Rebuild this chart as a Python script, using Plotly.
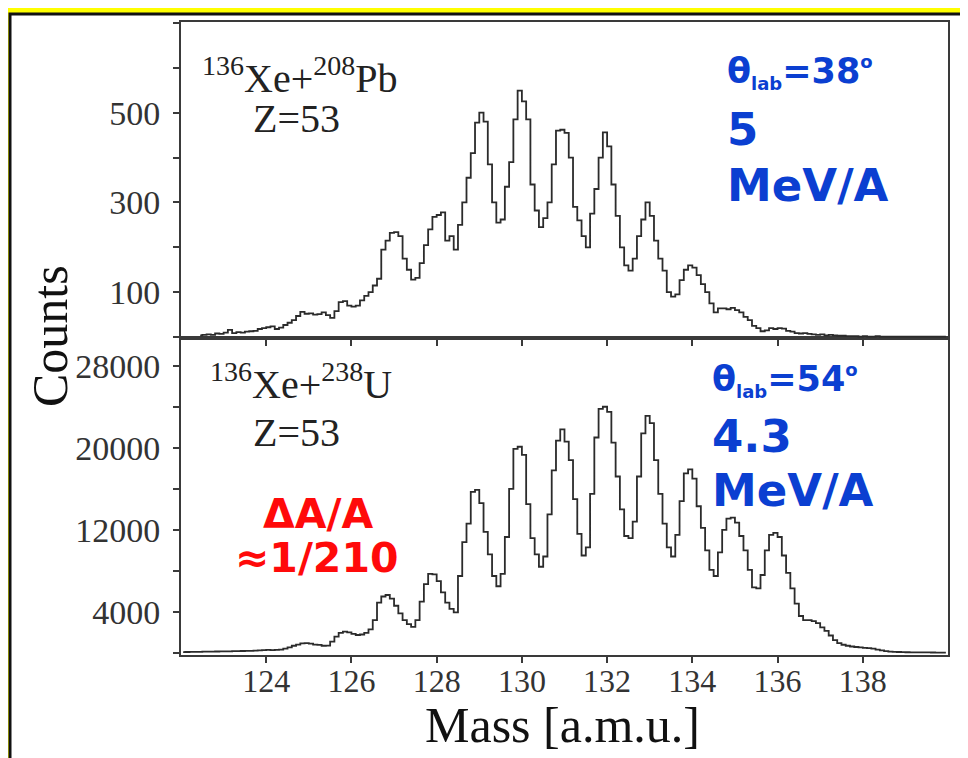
import plotly.graph_objects as go

# ---------------- data (counts per 0.1 amu bin, bin centres from 122.05) ----------------
mass_start = 122.05
bin_width = 0.1

pb_counts = [
    None, None, None, None, 4, 5, 6, 5, 8, 7,            # 122
    10, 16, 9, 11, 10, 12, 13, 14, 18, 20,               # 123
    22, 24, 18, 21, 27, 32, 38, 47, 56, 52,              # 124
    53, 50, 51, 55, 49, 43, 58, 78, 80, 70,              # 125
    68, 70, 82, 92, 100, 115, 130, 195, 215, 232,        # 126
    234, 225, 175, 150, 128, 132, 165, 205, 240, 268,    # 127
    272, 278, 215, 225, 195, 250, 300, 355, 410, 478,    # 128
    500, 480, 385, 300, 255, 262, 335, 390, 485, 549,    # 129
    525, 485, 340, 282, 245, 265, 300, 385, 460, 462,    # 130
    455, 400, 290, 260, 225, 200, 275, 330, 400, 456,    # 131
    425, 340, 270, 200, 160, 148, 175, 225, 262, 300,    # 132
    270, 215, 175, 148, 100, 90, 95, 127, 150, 160,      # 133
    155, 138, 118, 100, 75, 55, 64, 64, 62, 65,          # 134
    60, 55, 45, 38, 25, 20, 13, 15, 20, 18,              # 135
    20, 19, 14, 12, 9, 8, 9, 7, 6, 5,                    # 136
    6, 4, 5, 4, 3, 3, 2, 2, 2, 1,                        # 137
    2, 1, 1, 2, 1, 1, 1, 1, 1, 1,                        # 138
    1, 1, 1, 1, 1, 1, 1, 1, 1, 1,                        # 139
]

u_counts = [
    80, 90, 100, 100, 110, 120, 120, 130, 140, 150,                      # 122
    150, 160, 170, 180, 190, 200, 210, 230, 250, 270,                    # 123
    300, 280, 290, 330, 420, 550, 700, 820, 930, 950,                    # 124
    900, 820, 780, 700, 720, 1100, 1600, 1950, 2080, 2000,               # 125
    1850, 1750, 1800, 1950, 2300, 3200, 4900, 5500, 5650, 5300,          # 126
    4600, 3850, 3200, 2800, 2550, 3200, 5000, 6700, 7700, 7650,          # 127
    7000, 5900, 4900, 4300, 3950, 7500, 10800, 12600, 15700, 15900,      # 128
    14600, 11800, 9600, 7500, 6500, 7700, 11300, 16000, 19900, 20100,    # 129
    19300, 14500, 11200, 9600, 8400, 9400, 13500, 17800, 20700, 21800,   # 130
    20600, 18800, 15000, 11600, 9500, 10300, 15500, 21000, 23800, 24000, # 131
    23500, 20500, 17200, 14000, 11400, 11200, 12800, 17200, 21400, 23100,# 132
    22400, 18800, 15500, 12600, 10300, 9400, 11500, 14800, 17500, 17900, # 133
    17000, 14300, 12200, 10000, 8100, 7500, 9800, 12000, 13100, 13200,   # 134
    12700, 11400, 10000, 8100, 6400, 6300, 7600, 10000, 11500, 11700,    # 135
    11300, 9500, 7800, 6300, 4800, 3600, 3200, 3200, 3100, 2900,         # 136
    2500, 2150, 1700, 1250, 950, 800, 700, 630, 580, 540,                # 137
    500, 470, 430, 330, 260, 180, 130, 110, 90, 80,                      # 138
    70, 60, 60, 55, 50, 50, 45, 40, 40, 40,                              # 139
]

x_ticks = [124, 126, 128, 130, 132, 134, 136, 138]
pb_ticks = [100, 300, 500]
u_ticks = [4000, 12000, 20000, 28000]

pb_mass = [round(mass_start + bin_width * i, 2) for i in range(len(pb_counts))]
u_mass = [round(mass_start + bin_width * i, 2) for i in range(len(u_counts))]

# ---------------- layout helpers ----------------
W, H = 968, 758
OFF = 8  # page offset of the figure (body margin)
L, T = 181 - OFF, 22 - OFF
R = W - (948 - OFF)
B = H - (655 - OFF)
PW, PH = W - L - R, H - T - B


def px(x):
    return (x - OFF - L) / PW


def py(y):
    return (H - B - (y - OFF)) / PH


split = py(338)

serif = "Liberation Serif"
sans_bold = "DejaVu Sans"
line_col = "#3a3a3a"
blue = "#0b3fd1"
red = "#ff0a0a"

fig = go.Figure()
fig.add_trace(go.Scatter(x=pb_mass, y=pb_counts, xaxis="x2", yaxis="y2", mode="lines",
                         line=dict(shape="hvh", color="#2b2b2b", width=1.8),
                         connectgaps=False, showlegend=False, hoverinfo="skip"))
fig.add_trace(go.Scatter(x=u_mass, y=u_counts, xaxis="x", yaxis="y", mode="lines",
                         line=dict(shape="hvh", color="#2b2b2b", width=1.8),
                         showlegend=False, hoverinfo="skip"))

ytickfont = dict(family=serif, size=34, color="#333333")
xtickfont = dict(family=serif, size=32, color="#333333")

common_x = dict(range=[122, 140], showgrid=False, zeroline=False, showline=True,
                linecolor=line_col, linewidth=2, mirror=True, ticks="outside",
                ticklen=6, tickwidth=1.5, tickcolor=line_col, tickvals=x_ticks,
                ticktext=[str(v) for v in x_ticks])

common_y = dict(ticks="outside", ticklen=6, tickwidth=1.5, tickcolor=line_col,
                showgrid=False, zeroline=False, showline=True, linecolor=line_col,
                linewidth=2, mirror=True, tickfont=ytickfont, ticklabelstandoff=6)

fig.update_layout(
    width=W, height=H,
    margin=dict(l=L, r=R, t=T, b=B, pad=0),
    paper_bgcolor="#ffff00",
    plot_bgcolor="white",
    xaxis=dict(domain=[0, 1], anchor="y", tickfont=xtickfont, ticklabelstandoff=-9,
               **common_x),
    xaxis2=dict(domain=[0, 1], anchor="y2", matches="x", showticklabels=False, **common_x),
    yaxis=dict(domain=[0, split], range=[-200, 30700], tickvals=u_ticks,
               ticktext=[str(v) for v in u_ticks],
               minor=dict(tick0=0, dtick=4000, ticks="outside", ticklen=6, tickwidth=1.5,
                          tickcolor=line_col, showgrid=False),
               **common_y),
    yaxis2=dict(domain=[split, 1], range=[-2, 702], tickvals=pb_ticks,
                ticktext=[str(v) for v in pb_ticks],
                minor=dict(tick0=0, dtick=100, ticks="outside", ticklen=6, tickwidth=1.5,
                           tickcolor=line_col, showgrid=False),
                **common_y),
)

# white sheet with black frame over the yellow page
fig.add_shape(type="rect", xref="paper", yref="paper", layer="below",
              x0=px(10), x1=px(1000), y0=py(800), y1=py(14),
              fillcolor="white", line=dict(color="#111111", width=3))

ann = []


def text(x, y, s, size, color, family, xanchor="left", angle=0):
    ann.append(dict(x=px(x), y=py(y), xref="paper", yref="paper", text=s, showarrow=False,
                    xanchor=xanchor, yanchor="middle", textangle=angle,
                    font=dict(family=family, size=size, color=color)))


def theta(value):
    return ("<b>θ<sub><span style='font-size:18px'>lab</span></sub>=" + value +
            "<sup><span style='font-size:18px'>o</span></sup></b>")


# reaction labels
text(200, 75, "<sup>136</sup>Xe+<sup>208</sup>Pb", 40, "#222222", serif)
text(296, 119, "Z=53", 40, "#222222", serif, xanchor="center")
text(208, 381, "<sup>136</sup>Xe+<sup>238</sup>U", 40, "#222222", serif)
text(296, 433, "Z=53", 40, "#222222", serif, xanchor="center")

# blue kinematics labels
text(725, 72, theta("38"), 35, blue, sans_bold)
text(725, 130, "<b>5</b>", 45, blue, sans_bold)
text(725, 186, "<b>MeV/A</b>", 45, blue, sans_bold)
text(710, 380, theta("54"), 35, blue, sans_bold)
text(710, 437, "<b>4.3</b>", 45, blue, sans_bold)
text(710, 490, "<b>MeV/A</b>", 45, blue, sans_bold)

# resolution
text(318, 514, "<b>ΔA/A</b>", 41, red, sans_bold, xanchor="center")
text(316, 558, "<b>≈1/210</b>", 41, red, sans_bold, xanchor="center")

# axis titles
text(50, 336, "Counts", 50, "#111111", serif, xanchor="center", angle=-90)
text(562, 725, "Mass [a.m.u.]", 50, "#111111", serif, xanchor="center")

fig.update_layout(annotations=ann)

fig.write_html("out.html")
